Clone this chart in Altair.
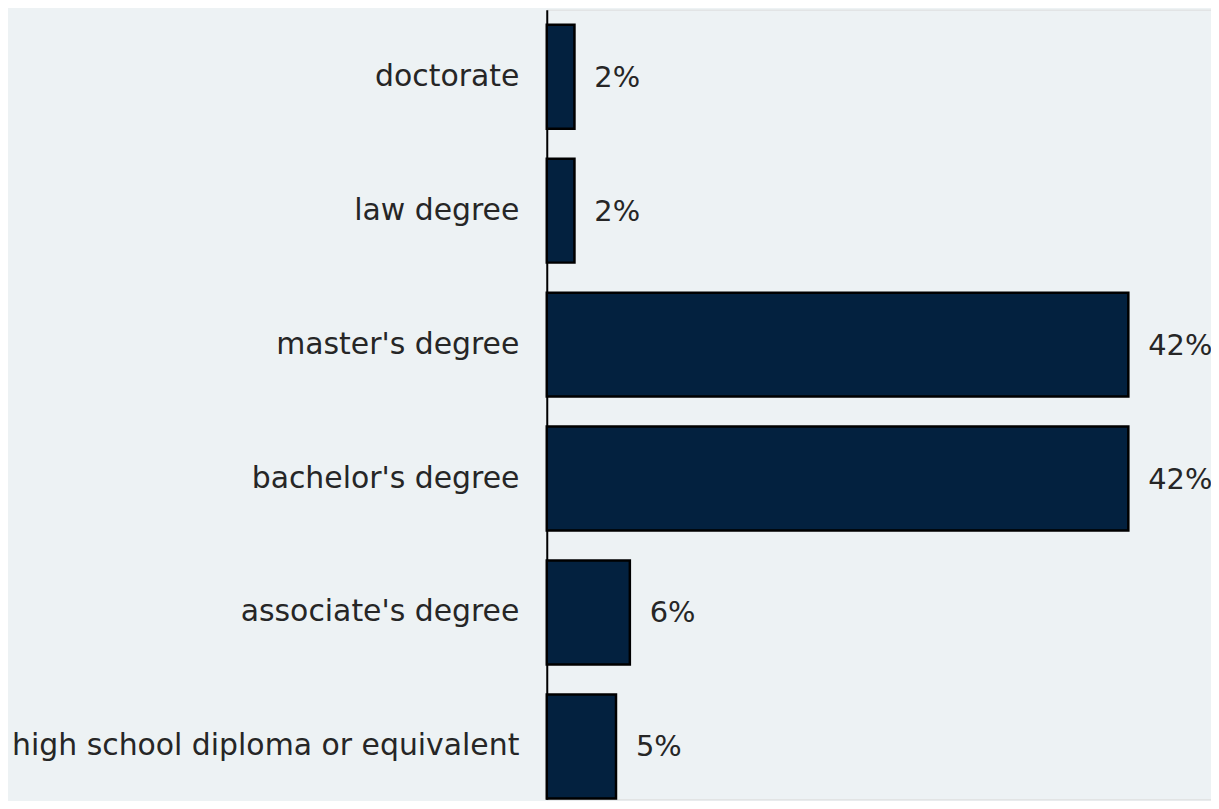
import altair as alt
import pandas as pd

categories = ["doctorate", "law degree", "master's degree", "bachelor's degree",
              "associate's degree", "high school diploma or equivalent"]
values = [2, 2, 42, 42, 6, 5]
labels = ["2%", "2%", "42%", "42%", "6%", "5%"]

df = pd.DataFrame({"cat": categories, "val": values, "lab": labels})

FONT = "DejaVu Sans"

y_enc = alt.Y("cat:N", sort=categories, title=None,
              scale=alt.Scale(paddingInner=0.224, paddingOuter=0.06, align=0.94),
              axis=alt.Axis(ticks=False, labelPadding=28, labelFontSize=30,
                            labelFont=FONT, labelColor="#262626", domainColor="#000000",
                            domainWidth=2, labelLimit=600, grid=False))
x_enc = alt.X("val:Q", title=None, scale=alt.Scale(domain=[0, 47.97], nice=False),
              axis=None)

bars = alt.Chart(df).mark_bar(fill="#03213f", stroke="#000000", strokeWidth=2.5).encode(
    x=x_enc, y=y_enc)

text = alt.Chart(df).mark_text(align="left", baseline="middle", dx=20, dy=1,
                               fontSize=29, font=FONT, color="#262626").encode(
    x=alt.X("val:Q"), y=alt.Y("cat:N", sort=categories), text="lab:N")

chart = alt.layer(bars, text).properties(
    width=667, height=793,
    autosize=alt.AutoSizeParams(type="none"),
    padding={"left": 541, "top": 0, "right": 0, "bottom": 0},
    background="#edf2f4",
).configure_view(stroke=None).configure(font=FONT)

chart.save("out.html", embed_options={"renderer": "svg", "actions": False})
